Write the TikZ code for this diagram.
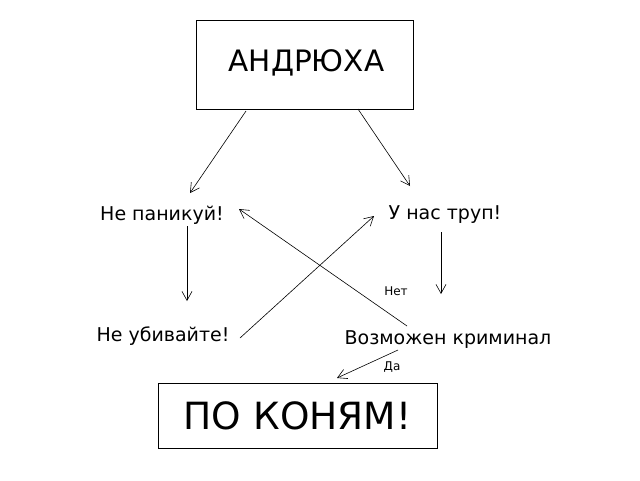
\documentclass[tikz,border=0pt]{standalone}
\usepackage{fontspec}
\setmainfont{DejaVu Sans}
\usetikzlibrary{arrows.meta}
\begin{document}
\begin{tikzpicture}[x=1pt,y=-1pt,
  box/.style={draw,line width=0.8pt,minimum width=217pt,minimum height=89pt,inner sep=0},
  lbl/.style={font=\fontsize{19}{22}\selectfont,inner sep=1pt},
  sm/.style={font=\fontsize{12}{14}\selectfont,inner sep=1pt},
  arr/.style={-{Straight Barb[length=9pt,width=10pt]},line width=0.6pt}]
\useasboundingbox (0,0) rectangle (640,480);
\node[box] (a) at (304.5,64.5) {};
\node at (306.5,63) {\fontsize{29.5}{32}\selectfont АНДРЮХА};
\node[box,minimum width=279pt,minimum height=65pt] (p) at (297.5,415.5) {\fontsize{37.5}{40}\selectfont ПО КОНЯМ!};
\node[lbl] (n1) at (162,215) {Не паникуй!};
\node[lbl] (n2) at (445,215) {У нас труп!};
\node[lbl] (n3) at (163,336) {Не убивайте!};
\node[lbl] (n4) at (448,340) {Возможен криминал};
\node[sm] (net) at (396,291) {Нет};
\node[sm] (da) at (392,367) {Да};
\coordinate (a1) at (246,111); \coordinate (a1e) at (190,193);
\coordinate (a2) at (358,109); \coordinate (a2e) at (410,186);
\coordinate (b1) at (187,226); \coordinate (b1e) at (187,301);
\coordinate (b2) at (441,232); \coordinate (b2e) at (441,294);
\coordinate (c1) at (240,338); \coordinate (c1e) at (374,216);
\coordinate (c2) at (407,326); \coordinate (c2e) at (239,209);
\coordinate (d1) at (398,350); \coordinate (d1e) at (337,378);
\draw[arr] (a1) -- (a1e);
\draw[arr] (a2) -- (a2e);
\draw[arr] (b1) -- (b1e);
\draw[arr] (b2) -- (b2e);
\draw[arr] (c1) -- (c1e);
\draw[arr] (c2) -- (c2e);
\draw[arr] (d1) -- (d1e);
\end{tikzpicture}
\end{document}
